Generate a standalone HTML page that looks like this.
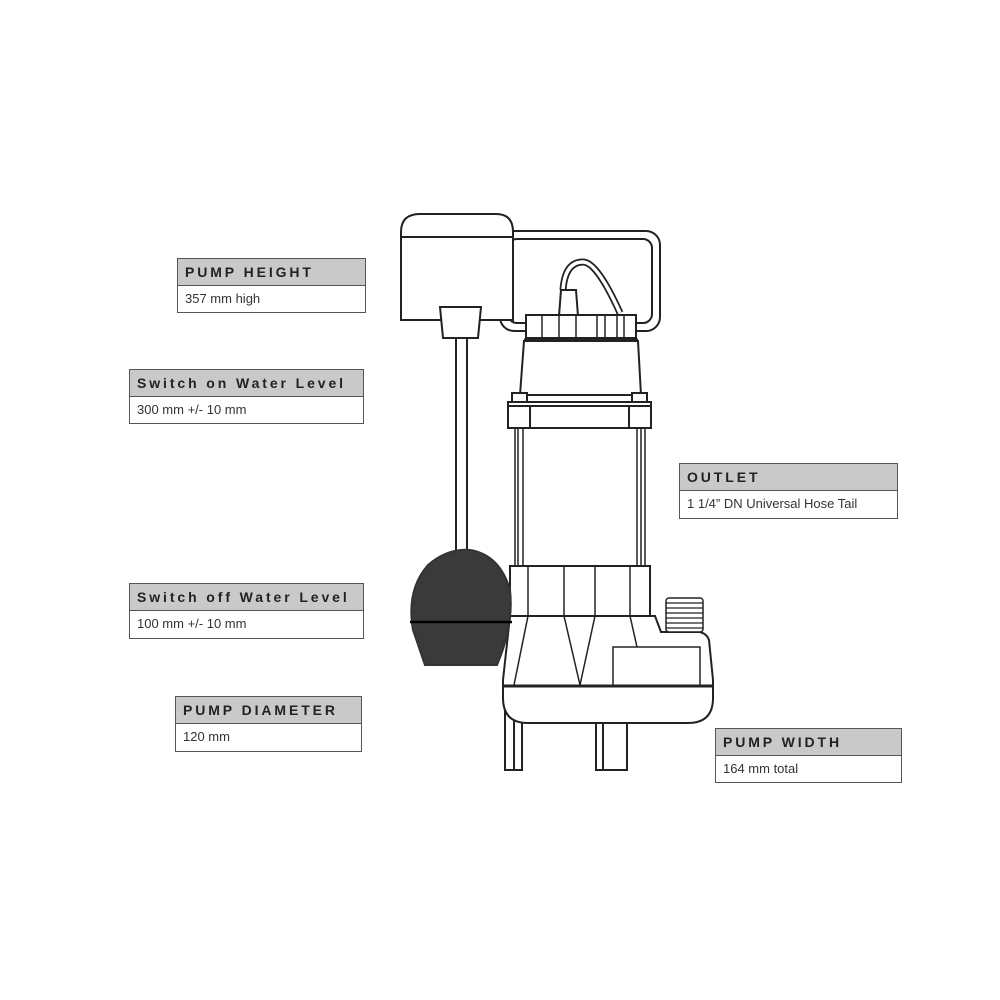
<!DOCTYPE html>
<html><head><meta charset="utf-8"><style>
body{margin:0;width:1000px;height:1000px;background:#fff;position:relative;overflow:hidden;font-family:"Liberation Sans",sans-serif}
.b{position:absolute;border:1.5px solid #555;background:#fff;box-sizing:border-box}
.h{background:#c9c9c9;border-bottom:1.5px solid #555;height:26px;line-height:26px;padding-left:7px;font-weight:bold;font-size:14px;letter-spacing:2.9px;color:#222}
.t{height:26px;line-height:26px;padding-left:7px;font-size:13px;color:#333}
svg{position:absolute;left:0;top:0}
</style></head><body>
<svg width="1000" height="1000" viewBox="0 0 1000 1000" fill="none" stroke="#222" stroke-width="2">
<!-- handle -->
<rect x="500" y="231" width="160" height="100" rx="14" fill="none" stroke-width="2"/>
<rect x="508" y="239" width="144" height="84" rx="9" stroke-width="2"/>
<!-- switch box -->
<path d="M401 320 V232 Q401 214 420 214 H496 Q513 214 513 232 V320 Z" fill="#fff"/>
<line x1="401" y1="237" x2="513" y2="237"/>
<path d="M440 307 H481 L478 338 H443 Z" fill="#fff"/>
<rect x="456" y="338" width="11" height="214" fill="#fff"/>
<!-- cable -->
<path d="M563 290 Q565 262 583 262 Q597 262 620 313" stroke-width="7" stroke="#222"/>
<path d="M563 290 Q565 262 583 262 Q597 262 620 313" stroke-width="3.5" stroke="#fff"/>
<path d="M561 290 H576 L578 316 H559 Z" fill="#fff"/>
<!-- top cap -->
<rect x="526" y="315" width="110" height="23" fill="#fff"/>
<g stroke-width="1.5"><line x1="542" y1="315" x2="542" y2="338"/><line x1="559" y1="315" x2="559" y2="338"/><line x1="576" y1="315" x2="576" y2="338"/><line x1="597" y1="315" x2="597" y2="338"/><line x1="605" y1="315" x2="605" y2="338"/><line x1="617" y1="315" x2="617" y2="338"/><line x1="624" y1="315" x2="624" y2="338"/></g>
<line x1="524" y1="340" x2="638" y2="340" stroke-width="3"/>
<!-- motor -->
<path d="M524 341 H638 L641 395 H520 Z" fill="#fff"/>
<rect x="512" y="393" width="15" height="10" fill="#fff"/><rect x="632" y="393" width="15" height="10" fill="#fff"/>
<rect x="508" y="402" width="143" height="26" fill="#fff"/>
<line x1="508" y1="406" x2="651" y2="406"/>
<line x1="530" y1="406" x2="530" y2="428"/><line x1="629" y1="406" x2="629" y2="428"/>
<!-- tubes -->
<g stroke-width="1.5"><line x1="515" y1="428" x2="515" y2="565"/><line x1="518" y1="428" x2="518" y2="565"/><line x1="523" y1="428" x2="523" y2="565"/>
<line x1="637" y1="428" x2="637" y2="565"/><line x1="641" y1="428" x2="641" y2="565"/><line x1="645" y1="428" x2="645" y2="565"/></g>
<!-- legs -->
<rect x="505" y="700" width="17" height="70" fill="#fff"/><line x1="514" y1="700" x2="514" y2="770"/>
<path d="M596 770 V717 Q596 713 603 713 L627 716 V770 Z" fill="#fff"/><line x1="603" y1="716" x2="603" y2="770"/>
<!-- lower body -->
<rect x="510" y="566" width="140" height="50" fill="#fff"/>
<g stroke-width="1.5"><line x1="528" y1="566" x2="528" y2="616"/><line x1="564" y1="566" x2="564" y2="616"/><line x1="595" y1="566" x2="595" y2="616"/><line x1="630" y1="566" x2="630" y2="616"/></g>
<path d="M510 616 L503 680 V698 Q503 723 528 723 H688 Q713 723 713 698 V680 L709 640 Q707 634 700 632 H661 L655 616 Z" fill="#fff"/>
<g stroke-width="1.5"><line x1="528" y1="616" x2="514" y2="685"/><line x1="564" y1="616" x2="580" y2="685"/><line x1="595" y1="616" x2="580" y2="685"/><line x1="630" y1="616" x2="637" y2="647"/></g>
<rect x="613" y="647" width="87" height="39" fill="#fff" stroke-width="1.5"/>
<line x1="503" y1="686" x2="713" y2="686" stroke-width="3"/>
<!-- outlet thread -->
<rect x="666" y="598" width="37" height="34" rx="3" fill="#fff" stroke-width="1.5"/>
<g stroke-width="1.2"><line x1="666" y1="603" x2="703" y2="603"/><line x1="666" y1="608" x2="703" y2="608"/><line x1="666" y1="613" x2="703" y2="613"/><line x1="666" y1="618" x2="703" y2="618"/><line x1="666" y1="623" x2="703" y2="623"/><line x1="666" y1="628" x2="703" y2="628"/></g>
<!-- float -->
<path d="M425 665 L413 630 Q406 590 428 565 Q448 548 470 550 Q500 555 510 590 Q514 625 497 665 Z" fill="#3a3a3a" stroke="#333"/>
<line x1="410" y1="622" x2="512" y2="622" stroke="#000" stroke-width="2.5"/>
</svg>
<div class="b" style="left:177px;top:258px;width:189px;height:55px"><div class="h">PUMP HEIGHT</div><div class="t">357 mm high</div></div>
<div class="b" style="left:129px;top:369px;width:235px;height:55px"><div class="h">Switch on Water Level</div><div class="t">300 mm +/- 10 mm</div></div>
<div class="b" style="left:679px;top:463px;width:219px;height:56px"><div class="h">OUTLET</div><div class="t">1 1/4” DN Universal Hose Tail</div></div>
<div class="b" style="left:129px;top:583px;width:235px;height:56px"><div class="h">Switch off Water Level</div><div class="t">100 mm +/- 10 mm</div></div>
<div class="b" style="left:175px;top:696px;width:187px;height:56px"><div class="h">PUMP DIAMETER</div><div class="t">120 mm</div></div>
<div class="b" style="left:715px;top:728px;width:187px;height:55px"><div class="h">PUMP WIDTH</div><div class="t">164 mm total</div></div>
</body></html>
